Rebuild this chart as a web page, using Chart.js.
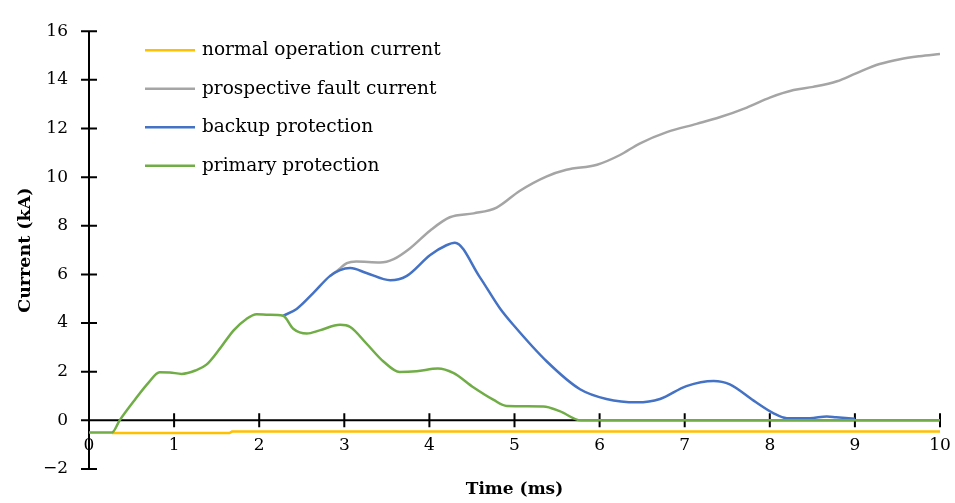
<!DOCTYPE html>
<html>
<head>
<meta charset="utf-8">
<script src="https://cdn.jsdelivr.net/npm/chart.js@4/dist/chart.umd.min.js"></script>
<style>
  html, body { margin: 0; padding: 0; background: #fff; }
  #wrap { width: 955px; height: 503px; }
</style>
</head>
<body>
<div id="wrap"><canvas id="c" width="955" height="503"></canvas></div>
<script>
// ---- data ----
const seriesNames = ["normal operation current", "prospective fault current", "backup protection", "primary protection"];
const seriesColors = ["#FFC000", "#A5A5A5", "#4472C4", "#70AD47"];

const normalTime    = [0.27, 1.65, 1.68, 10];
const normalCurrent = [-0.52, -0.52, -0.46, -0.46];

const faultTime    = [2.83, 2.91, 3.03, 3.14, 3.42, 3.58, 3.77, 4.01, 4.24, 4.52, 4.79, 5.06, 5.38, 5.61, 5.97, 6.24, 6.47, 6.79, 7.14, 7.41, 7.73, 8.00, 8.28, 8.51, 8.79, 9.02, 9.29, 9.53, 9.76, 10.0];
const faultCurrent = [5.93, 6.13, 6.46, 6.53, 6.49, 6.63, 7.07, 7.81, 8.35, 8.51, 8.75, 9.43, 10.03, 10.30, 10.51, 10.91, 11.38, 11.85, 12.19, 12.46, 12.86, 13.27, 13.58, 13.71, 13.94, 14.28, 14.65, 14.85, 14.97, 15.06];

const backupTime    = [2.28, 2.44, 2.64, 2.83, 2.95, 3.07, 3.26, 3.54, 3.73, 4.01, 4.20, 4.30, 4.59, 4.83, 4.99, 5.38, 5.77, 6.08, 6.44, 6.71, 7.02, 7.34, 7.53, 7.81, 8.04, 8.20, 8.47, 8.67, 8.78, 9.0];
const backupCurrent = [4.30, 4.58, 5.25, 5.93, 6.18, 6.26, 6.06, 5.76, 5.93, 6.80, 7.20, 7.30, 5.90, 4.60, 3.91, 2.42, 1.28, 0.88, 0.74, 0.88, 1.41, 1.62, 1.48, 0.81, 0.30, 0.09, 0.09, 0.16, 0.13, 0.07];

const primaryTime    = [0, 0.27, 0.36, 0.54, 0.70, 0.83, 0.95, 1.09, 1.25, 1.38, 1.54, 1.70, 1.85, 1.97, 2.11, 2.28, 2.40, 2.56, 2.71, 2.95, 3.07, 3.26, 3.46, 3.65, 3.85, 4.10, 4.28, 4.52, 4.75, 4.91, 5.34, 5.53, 5.78, 6, 7, 8, 9, 10];
const primaryCurrent = [-0.5, -0.5, 0, 0.85, 1.55, 1.98, 1.97, 1.91, 2.05, 2.29, 2.96, 3.70, 4.17, 4.36, 4.34, 4.30, 3.77, 3.57, 3.70, 3.93, 3.84, 3.16, 2.42, 1.99, 2.02, 2.13, 1.95, 1.35, 0.85, 0.59, 0.57, 0.38, 0, 0, 0, 0, 0, 0];

const xTicks = [0, 1, 2, 3, 4, 5, 6, 7, 8, 9, 10];
const yTicks = [-2, 0, 2, 4, 6, 8, 10, 12, 14, 16];
const xTitle = "Time (ms)";
const yTitle = "Current (kA)";

// ---- build ----
function pts(xs, ys) { return xs.map((x, i) => ({ x: x, y: ys[i] })); }

const FONT = "'DejaVu Serif', 'Liberation Serif', serif";

const axesPlugin = {
  id: 'crossAxes',
  beforeDatasetsDraw(chart) {
    const ctx = chart.ctx, xs = chart.scales.x, ys = chart.scales.y;
    const x0 = xs.getPixelForValue(0), y0 = ys.getPixelForValue(0);
    ctx.save();
    ctx.strokeStyle = '#000';
    ctx.lineWidth = 2;
    ctx.beginPath();
    ctx.moveTo(x0, ys.getPixelForValue(yTicks[yTicks.length - 1]));
    ctx.lineTo(x0, ys.getPixelForValue(yTicks[0]));
    yTicks.forEach(v => { const p = ys.getPixelForValue(v); ctx.moveTo(x0 - 8, p); ctx.lineTo(x0 + 8, p); });
    ctx.moveTo(xs.getPixelForValue(xTicks[0]), y0);
    ctx.lineTo(xs.getPixelForValue(xTicks[xTicks.length - 1]), y0);
    xTicks.slice(1).forEach(v => { const p = xs.getPixelForValue(v); ctx.moveTo(p, y0 - 7); ctx.lineTo(p, y0 + 7); });
    ctx.stroke();
    ctx.restore();
  }
};

const legendPlugin = {
  id: 'insideLegend',
  afterDraw(chart) {
    const ctx = chart.ctx, a = chart.chartArea;
    ctx.save();
    ctx.font = "18.5px " + FONT;
    ctx.textBaseline = 'middle';
    ctx.fillStyle = '#000';
    seriesNames.forEach((n, i) => {
      const y = a.top + 19 + i * 38.5;
      ctx.strokeStyle = seriesColors[i];
      ctx.lineWidth = 2.5;
      ctx.beginPath();
      ctx.moveTo(a.left + 56, y);
      ctx.lineTo(a.left + 106, y);
      ctx.stroke();
      ctx.fillText(n, a.left + 113, y);
    });
    ctx.restore();
  }
};

const common = { fill: false, pointRadius: 0, borderWidth: 2.5, cubicInterpolationMode: 'monotone' };

new Chart(document.getElementById('c'), {
  type: 'line',
  data: {
    datasets: [
      Object.assign({ label: seriesNames[3], data: pts(primaryTime, primaryCurrent), borderColor: seriesColors[3] }, common),
      Object.assign({ label: seriesNames[2], data: pts(backupTime, backupCurrent), borderColor: seriesColors[2] }, common),
      Object.assign({ label: seriesNames[1], data: pts(faultTime, faultCurrent), borderColor: seriesColors[1] }, common),
      Object.assign({ label: seriesNames[0], data: pts(normalTime, normalCurrent), borderColor: seriesColors[0] }, common, { cubicInterpolationMode: 'default', tension: 0 })
    ]
  },
  options: {
    responsive: false,
    animation: false,
    layout: { padding: { left: 0, right: 15, top: 24, bottom: 0 } },
    plugins: { legend: { display: false }, tooltip: { enabled: false } },
    scales: {
      x: {
        type: 'linear', position: 'bottom', min: 0, max: 10,
        afterFit(s) { s.height = 34; s.paddingLeft = 0; s.paddingRight = 0; },
        afterBuildTicks(s) { s.ticks = xTicks.map(v => ({ value: v })); },
        grid: { display: false, drawTicks: false },
        border: { display: false },
        ticks: { mirror: true, padding: 13, color: '#000', font: { family: FONT, size: 17 }, maxRotation: 0, autoSkip: false },
        title: { display: true, text: xTitle, color: '#000', font: { family: FONT, size: 17, weight: 'bold' }, padding: { top: 0, bottom: 3 } }
      },
      y: {
        type: 'linear', min: -2, max: 16,
        afterFit(s) { s.width = 89; },
        afterBuildTicks(s) { s.ticks = yTicks.map(v => ({ value: v })); },
        grid: { display: false, drawTicks: false },
        border: { display: false },
        ticks: { padding: 21, color: '#000', font: { family: FONT, size: 17 }, callback: v => String(v).replace('-', '\u2212') },
        title: { display: true, text: yTitle, color: '#000', font: { family: FONT, size: 17.5, weight: 'bold' }, padding: { top: 15, bottom: 0 } }
      }
    }
  },
  plugins: [axesPlugin, legendPlugin]
});
</script>
</body>
</html>
